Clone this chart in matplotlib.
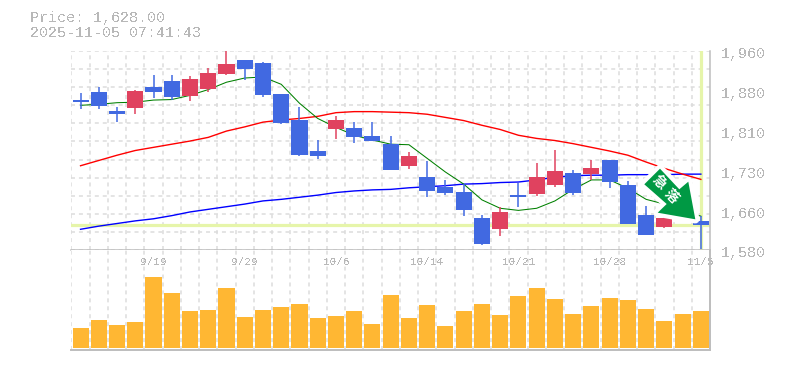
import matplotlib
matplotlib.use('Agg')
import matplotlib.pyplot as plt
from matplotlib.patches import Polygon
from matplotlib.transforms import Bbox

plt.rcParams['text.antialiased'] = False

# daily prices
opens = [1866, 1881, 1845, 1850, 1890, 1902, 1873, 1888, 1915, 1942, 1936, 1877,
         1828, 1769, 1810, 1812, 1797, 1782, 1740, 1719, 1700, 1691, 1641, 1620,
         1685, 1687, 1704, 1727, 1725, 1752, 1704, 1647, 1624, 1676, 1636]
closes = [1862, 1854, 1839, 1883, 1881, 1871, 1907, 1917, 1934, 1925, 1875, 1822,
          1761, 1759, 1828, 1795, 1788, 1733, 1759, 1693, 1689, 1657, 1592, 1653,
          1681, 1719, 1731, 1689, 1736, 1710, 1630, 1609, 1641, 1641, 1628]
highs = [1879, 1890, 1852, 1886, 1913, 1913, 1911, 1928, 1961, 1942, 1938, 1877,
         1852, 1790, 1835, 1824, 1824, 1797, 1767, 1750, 1714, 1706, 1647, 1662,
         1708, 1746, 1771, 1733, 1752, 1752, 1712, 1664, 1643, 1685, 1645]
lows = [1849, 1849, 1824, 1839, 1869, 1867, 1864, 1881, 1913, 1905, 1871, 1820,
        1759, 1753, 1791, 1784, 1788, 1733, 1734, 1681, 1685, 1645, 1590, 1607,
        1662, 1683, 1700, 1685, 1714, 1698, 1630, 1609, 1622, 1640, 1582]

ma_short = [1856, 1858, 1861, 1862, 1866, 1867, 1875, 1886, 1900, 1908, 1910, 1896,
            1860, 1831, 1814, 1799, 1790, 1782, 1781, 1755, 1729, 1706, 1676, 1660,
            1656, 1660, 1674, 1696, 1714, 1714, 1698, 1677, 1668, 1656, 1645]
ma_mid = [1741, 1751, 1761, 1770, 1776, 1782, 1788, 1795, 1807, 1815, 1824, 1828,
          1831, 1835, 1842, 1844, 1844, 1843, 1842, 1839, 1833, 1827, 1818, 1810,
          1799, 1793, 1789, 1783, 1776, 1769, 1761, 1748, 1736, 1725, 1715]
ma_long = [1620, 1626, 1631, 1636, 1640, 1646, 1653, 1658, 1663, 1668, 1674, 1677,
           1681, 1685, 1690, 1693, 1695, 1696, 1699, 1701, 1703, 1706, 1707, 1709,
           1710, 1714, 1719, 1722, 1723, 1723, 1724, 1724, 1724, 1725, 1725]

volumes = [60, 84, 69, 78, 213, 165, 111, 114, 180, 93, 114, 123, 132, 90, 96, 111,
           72, 159, 90, 129, 66, 111, 132, 99, 156, 180, 147, 102, 126, 150, 144,
           117, 81, 102, 111]

date_pos = [4, 9, 14, 19, 24, 29, 34]
date_labels = ['9/19', '9/29', '10/6', '10/14', '10/21', '10/28', '11/5']
price_ticks = [1960, 1880, 1810, 1730, 1660, 1580]
price_tick_pos = [1960, 1884, 1808, 1732, 1656, 1580]

last_price = 1628
GRID = '#dcdcdc'
EDGE = '#bdbdbd'
TEXT = '#b8b8b8'
HILITE = '#e6f5aa'
BLUE = '#4169e1'
RED = '#e0425f'
MONO = 'Liberation Mono'
W, H = 785, 370

fig = plt.figure(figsize=(W / 100, H / 100), dpi=100)
left, right = 70.5 / W, 710 / W
ax = fig.add_axes([left, (H - 250.3) / H, right - left, 199.6 / H])
axv = fig.add_axes([left, (H - 350) / H, right - left, 99.7 / H])

xs = list(range(len(opens)))
grid_x = [i - 0.5 for i in xs]

# price panel
ax.set_xlim(-0.55, 34.5)
ax.set_ylim(1580, 1960)
ax.vlines(grid_x, 1580, 1960, color=GRID, lw=1.1, linestyles=(0, (2.6, 2.6)), zorder=1)
ax.hlines([1580 + 380 / 11 * k for k in range(12)], -0.55, 34.5, color=GRID, lw=1.1,
          linestyles=(0, (2.6, 2.6)), zorder=1)
ax.axhline(last_price, color=HILITE, lw=2.3, zorder=2)
ax.axvline(xs[-1], color=HILITE, lw=2.3, zorder=2)

ax.plot(xs, ma_long, color='blue', lw=1.0, zorder=3)
ax.plot(xs, ma_mid, color='red', lw=1.0, zorder=3)
ax.plot(xs, ma_short, color='green', lw=0.75, zorder=3)

colors = [RED if c > o else BLUE for o, c in zip(opens, closes)]
ax.vlines(xs, lows, highs, colors=colors, lw=1.1, zorder=4)
ax.bar(xs, [abs(c - o) for o, c in zip(opens, closes)],
       bottom=[min(o, c) for o, c in zip(opens, closes)],
       width=0.88, color=colors, lw=0, zorder=5)

for s in ['top', 'left']:
    ax.spines[s].set_visible(False)
for s in ['right', 'bottom']:
    ax.spines[s].set_color(EDGE)
    ax.spines[s].set_linewidth(1.1)
ax.set_xticks([])
ax.set_yticks([])
# labels sit a few pixels under their price level
for p, lab in zip(price_tick_pos, price_ticks):
    ax.text(1.0165, p - 6, '{:,}'.format(lab), transform=ax.get_yaxis_transform(), family=MONO,
            fontsize=10.8, color=TEXT, va='center', clip_on=False)

# volume panel
axv.set_xlim(-0.55, 34.5)
axv.set_ylim(-6, 293)
axv.vlines(grid_x, -6, 293, color=GRID, lw=1.1, linestyles=(0, (2.6, 2.6)), zorder=1)
axv.bar(xs, volumes, width=0.88, color='#ffb733', lw=0, zorder=3)
for s in ['top', 'left']:
    axv.spines[s].set_visible(False)
for s in ['right', 'bottom']:
    axv.spines[s].set_color(EDGE)
    axv.spines[s].set_linewidth(1.4)
axv.set_yticks([])
axv.set_xticks([])
for p, lab in zip(date_pos, date_labels):
    t = axv.text(p, 258, lab, family=MONO, fontsize=7.9, color=TEXT, ha='center', va='center',
                 zorder=2, clip_on=True)
    t.set_clip_box(Bbox([[0, 0], [713, H]]))

# header
fig.text(30 / W, 1 - 18 / H, 'Price: 1,628.00', family=MONO, fontsize=10.8, color=TEXT, va='center')
fig.text(30 / W, 1 - 33 / H, '2025-11-05 07:41:43', family=MONO, fontsize=10.8, color=TEXT, va='center')

# signal arrow stamp, placed in pixels
arrow_px = [(644.3, 184.3), (660, 168.7), (679.3, 189.3), (688.3, 181.7), (695.3, 219.3),
            (657.7, 212.7), (666.7, 204)]
arrow_xy = [(x / W, 1 - y / H) for x, y in arrow_px]
fig.add_artist(Polygon(arrow_xy, closed=True, transform=fig.transFigure, facecolor='white',
                       edgecolor='white', lw=6, joinstyle='round', zorder=10))
fig.add_artist(Polygon(arrow_xy, closed=True, transform=fig.transFigure, facecolor='#009944',
                       edgecolor='none', zorder=11))
cjk = ['Noto Sans CJK JP', 'DejaVu Sans']
fig.text(659 / W, 1 - 182 / H, '急', family=cjk, fontsize=10, weight='bold', color='white', rotation=-45,
         ha='center', va='center', antialiased=True, zorder=12)
fig.text(671 / W, 1 - 196 / H, '落', family=cjk, fontsize=10, weight='bold', color='white', rotation=-45,
         ha='center', va='center', antialiased=True, zorder=12)

plt.savefig('out.png', dpi=100)
